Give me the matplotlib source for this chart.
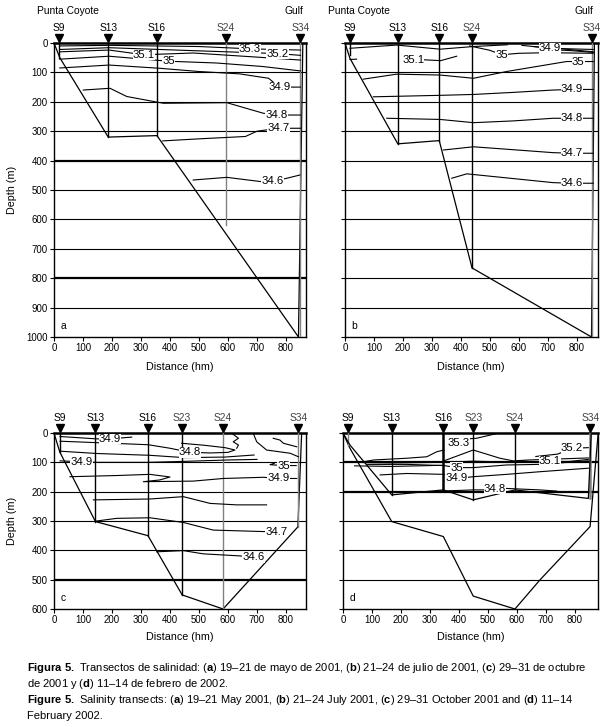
import matplotlib
matplotlib.use("Agg")
import matplotlib.pyplot as plt
import matplotlib.transforms as mtransforms
from matplotlib import font_manager

# ---- data (distance in hm, depth in m) ----
A_STATIONS = ["S9", "S13", "S16", "S24", "S34"]
A_STATION_X = [17, 187, 355, 592, 850]
A_CAST_Z = [50, 320, 315, 620, 1000]
A_BOTTOM_X = [0, 20, 187, 355, 843, 858]
A_BOTTOM_Z = [0, 50, 320, 315, 1000, 0]
A_ISO = [
    ([20, 190, 500, 680, 850], [10, 8, 12, 20, 24]),
    ([20, 190, 450, 770, 850], [22, 16, 25, 36, 42]),
    ([20, 190, 310, 480, 700, 850], [30, 24, 40, 34, 48, 58]),
    ([20, 190, 395, 560, 720, 850], [55, 45, 62, 68, 80, 95]),
    ([20, 190, 365, 500, 640, 740, 777, 850], [85, 75, 86, 97, 105, 120, 150, 150]),
    ([101, 193, 251, 377, 596, 722, 768, 850], [160, 154, 182, 205, 203, 239, 245, 245]),
    ([375, 500, 660, 700, 774, 850], [333, 326, 318, 300, 290, 290]),
    ([480, 596, 710, 754, 803, 848], [466, 457, 471, 471, 460, 449]),
]
A_LABELS = [("35.3", 676, 20), ("35.2", 770, 36), ("35.1", 310, 40), ("35", 395, 62),
            ("34.9", 777, 150), ("34.8", 768, 245), ("34.7", 774, 290), ("34.6", 754, 471)]

B_STATIONS = ["S9", "S13", "S16", "S24", "S34"]
B_STATION_X = [17, 182, 325, 438, 852]
B_CAST_Z = [40, 343, 332, 765, 1000]
B_BOTTOM_X = [0, 17, 182, 325, 438, 850, 860]
B_BOTTOM_Z = [0, 52, 343, 332, 765, 1000, 0]
B_ISO = [
    ([17, 178, 328, 443, 560], [18, 7, 21, 12, 6]),
    ([17, 40], [56, 55]),
    ([200, 270, 330, 385], [58, 57, 60, 45]),
    ([430, 500, 540, 600, 700, 856], [10, 25, 40, 35, 33, 35]),
    ([610, 707, 856], [8, 18, 22]),
    ([650, 750, 856], [12, 20, 30]),
    ([700, 780, 856], [22, 26, 32]),
    ([63, 178, 328, 443, 557, 764, 804, 856], [123, 106, 109, 120, 97, 63, 63, 63]),
    ([98, 328, 443, 580, 718, 783, 856], [183, 178, 175, 168, 160, 158, 158]),
    ([144, 328, 443, 580, 718, 783, 856], [256, 260, 271, 265, 256, 256, 256]),
    ([339, 443, 718, 783, 856], [364, 353, 373, 375, 375]),
    ([368, 420, 718, 783, 856], [460, 445, 475, 477, 477]),
]
B_LABELS = [("35.1", 235, 58), ("35", 540, 40), ("34.9", 707, 18), ("35", 804, 63),
            ("34.9", 783, 158), ("34.8", 783, 256), ("34.7", 783, 375), ("34.6", 783, 477)]

C_STATIONS = ["S9", "S13", "S16", "S23", "S24", "S34"]
C_STATION_X = [20, 143, 324, 442, 583, 842]
C_CAST_Z = [65, 302, 350, 552, 600, 320]
C_BOTTOM_X = [0, 20, 143, 324, 442, 583, 841, 854]
C_BOTTOM_Z = [0, 65, 302, 350, 552, 600, 320, 0]
C_ISO = [
    ([21, 147, 193, 268], [12, 20, 20, 14]),
    ([21, 150, 325, 400, 469, 540, 600, 624, 590, 520, 440], [28, 33, 40, 52, 66, 68, 66, 58, 50, 42, 35]),
    ([21, 150, 330, 450, 590, 690], [62, 70, 76, 84, 82, 75]),
    ([21, 95, 150, 320, 440, 600, 700], [95, 98, 100, 100, 97, 92, 90]),
    ([760, 745, 791, 835], [103, 108, 111, 111]),
    ([55, 216, 331, 400, 365, 308, 480, 584, 722, 774, 837],
     [149, 145, 141, 150, 160, 166, 164, 155, 151, 155, 155]),
    ([136, 331, 446, 538, 630, 733], [228, 225, 217, 240, 245, 245]),
    ([147, 216, 331, 446, 549, 722, 768, 800], [300, 291, 289, 305, 331, 336, 336, 335]),
    ([354, 446, 515, 641, 687, 700], [405, 401, 412, 419, 424, 424]),
    ([613, 636, 618, 636, 630], [1, 18, 30, 41, 52]),
    ([687, 699, 733, 814, 843], [1, 30, 58, 69, 81]),
    ([756, 779, 791, 837], [18, 24, 35, 47]),
]
C_LABELS = [("34.9", 193, 20), ("34.8", 469, 66), ("34.9", 95, 98), ("35", 791, 111),
            ("34.9", 774, 155), ("34.7", 768, 336), ("34.6", 687, 424)]

D_STATIONS = ["S9", "S13", "S16", "S23", "S24", "S34"]
D_STATION_X = [18, 168, 346, 449, 593, 853]
D_CAST_Z = [45, 211, 194, 228, 194, 223]
D_BOTTOM_X = [0, 24, 168, 346, 449, 593, 679, 852, 880]
D_BOTTOM_Z = [0, 52, 302, 353, 556, 600, 501, 319, 0]
D_INNER_X = [0, 24, 168, 346, 449, 593, 846, 856]
D_INNER_Z = [0, 41, 211, 194, 228, 194, 223, 0]
D_ISO = [
    ([430, 460, 530], [20, 18, 2]),
    ([60, 105, 220, 289, 323, 348], [100, 92, 86, 81, 64, 58]),
    ([348, 449, 541, 587, 640, 700, 760, 846], [95, 58, 86, 95, 92, 90, 88, 85]),
    ([665, 740, 789, 846], [80, 72, 52, 50]),
    ([580, 620, 660, 714, 780, 846], [100, 95, 100, 97, 97, 90]),
    ([30, 168, 348, 449, 593, 846], [100, 102, 100, 96, 100, 100]),
    ([40, 168, 348], [112, 114, 110]),
    ([82, 220, 348, 392, 449, 564, 679, 846], [107, 107, 111, 118, 118, 109, 107, 95]),
    ([128, 220, 348, 392, 449, 564, 679, 846], [143, 138, 141, 155, 149, 141, 132, 120]),
    ([335, 449, 495, 524, 564, 679, 737], [198, 194, 194, 191, 189, 194, 198]),
]
D_LABELS = [("35.3", 398, 35), ("35.2", 789, 50), ("35.1", 714, 97), ("35", 392, 118),
            ("34.9", 392, 155), ("34.8", 524, 191)]

CAPTION = [
    r"$\mathbf{Figura\ 5.}$ Transectos de salinidad: ($\mathbf{a}$) 19–21 de mayo de 2001, ($\mathbf{b}$) 21–24 de julio de 2001, ($\mathbf{c}$) 29–31 de octubre",
    r"de 2001 y ($\mathbf{d}$) 11–14 de febrero de 2002.",
    r"$\mathbf{Figure\ 5.}$ Salinity transects: ($\mathbf{a}$) 19–21 May 2001, ($\mathbf{b}$) 21–24 July 2001, ($\mathbf{c}$) 29–31 October 2001 and ($\mathbf{d}$) 11–14",
    r"February 2002.",
]

# ---- fonts ----
installed = {f.name for f in font_manager.fontManager.ttflist}
NARROW = "Liberation Sans Narrow" in installed
base = "Liberation Sans Narrow" if NARROW else "Liberation Sans"
k = 1.0 if NARROW else 0.82
plt.rcParams["font.family"] = [base, "Liberation Sans", "DejaVu Sans"]
plt.rcParams["mathtext.fontset"] = "custom"
plt.rcParams["mathtext.rm"] = base
plt.rcParams["mathtext.bf"] = base + ":bold"
TICK_FS, STN_FS, LAB_FS, AX_FS, CAP_FS = 8.5 * k, 9 * k, 10 * k, 9.5 * k, 9.75 * k

W, H = 611, 727
fig = plt.figure(figsize=(W / 100, H / 100), dpi=100)
GRAY = "#808080"


def px_axes(left, top, right, bottom):
    return fig.add_axes([left / W, 1 - bottom / H, (right - left) / W, (bottom - top) / H])


def draw_panel(ax, letter, zmax, xmax, names, sx, casts, bx, bz, iso, labels,
               gray=(), thick=(), bold_casts=(), ylabels=True):
    ax.set_xlim(0, xmax)
    ax.set_ylim(zmax, 0)
    for d in range(100, zmax, 100):
        ax.axhline(d, color="black", lw=1.6 if d in thick else 0.8, zorder=2)
    ax.plot(bx, bz, color="black", lw=0.9, zorder=3)
    for name, x, z in zip(names, sx, casts):
        col = GRAY if name in gray else "black"
        lw = 1.8 if name in bold_casts else 1.0
        ax.plot([x, x], [0, z], color=col, lw=lw, zorder=3)
    for xs, zs in iso:
        ax.plot(xs, zs, color="black", lw=0.8, zorder=4)
    for txt, x, z in labels:
        ax.text(x, z, txt, ha="center", va="center", fontsize=LAB_FS, zorder=5,
                bbox=dict(fc="white", ec="none", pad=0.2))
    for s in ax.spines.values():
        s.set_linewidth(1.0)
    ax.spines["top"].set_linewidth(1.8)
    ax.set_yticks(range(0, zmax + 1, 100))
    ax.set_xticks(range(0, 801, 100))
    ax.tick_params(direction="out", length=3, width=0.8, labelsize=TICK_FS, pad=1.5)
    if not ylabels:
        ax.set_yticklabels([])
    # station markers above the section
    tri = mtransforms.offset_copy(ax.get_xaxis_transform(), fig=fig, y=5, units="dots")
    ax.plot(sx, [1] * len(sx), "v", color="black", ms=6, transform=tri, clip_on=False)
    lab = mtransforms.offset_copy(ax.get_xaxis_transform(), fig=fig, y=15, units="dots")
    for name, x in zip(names, sx):
        ax.text(x, 1, name, transform=lab, ha="center", va="center", fontsize=STN_FS,
                color="#444444" if name in ("S23", "S24", "S34") else "black")
    ltr = mtransforms.offset_copy(ax.transAxes, fig=fig, x=9, y=11, units="dots")
    ax.text(0, 0, letter, transform=ltr, ha="center", va="center", fontsize=STN_FS)


ax_a = px_axes(54, 43, 54 + 870 * 0.29, 337)
ax_b = px_axes(345, 43, 345 + 872 * 0.29, 337)
ax_c = px_axes(54, 433, 54 + 870 * 0.29, 609)
ax_d = px_axes(343, 433, 343 + 879 * 0.29, 609)

draw_panel(ax_a, "a", 1000, 870, A_STATIONS, A_STATION_X, A_CAST_Z, A_BOTTOM_X, A_BOTTOM_Z,
           A_ISO, A_LABELS, gray=("S24", "S34"), thick=(400, 800))
draw_panel(ax_b, "b", 1000, 872, B_STATIONS, B_STATION_X, B_CAST_Z, B_BOTTOM_X, B_BOTTOM_Z,
           B_ISO, B_LABELS, gray=("S34",), ylabels=False)
draw_panel(ax_c, "c", 600, 870, C_STATIONS, C_STATION_X, C_CAST_Z, C_BOTTOM_X, C_BOTTOM_Z,
           C_ISO, C_LABELS, gray=("S24", "S34"), thick=(500,))
draw_panel(ax_d, "d", 600, 879, D_STATIONS, D_STATION_X, D_CAST_Z, D_BOTTOM_X, D_BOTTOM_Z,
           D_ISO, D_LABELS, gray=("S9", "S34"), thick=(100, 200), bold_casts=("S16", "S34"),
           ylabels=False)
ax_d.plot(D_INNER_X, D_INNER_Z, color="black", lw=0.9, zorder=3)


def ftext(x, y, s, **kw):
    return fig.text(x / W, 1 - y / H, s, **kw)


for left, right in ((37, 303), (328, 593)):
    ftext(left, 11, "Punta Coyote", ha="left", va="center", fontsize=STN_FS)
    ftext(right, 11, "Gulf", ha="right", va="center", fontsize=STN_FS)
for cx, cy in ((180, 367), (471, 367), (180, 637), (471, 637)):
    ftext(cx, cy, "Distance (hm)", ha="center", va="center", fontsize=AX_FS)
for cy in (190, 521):
    ftext(12, cy, "Depth (m)", ha="center", va="center", rotation=90, fontsize=AX_FS)

for i, line in enumerate(CAPTION):
    ftext(27, 668 + 16 * i, line, ha="left", va="center", fontsize=CAP_FS)

fig.savefig("out.png", dpi=100)
